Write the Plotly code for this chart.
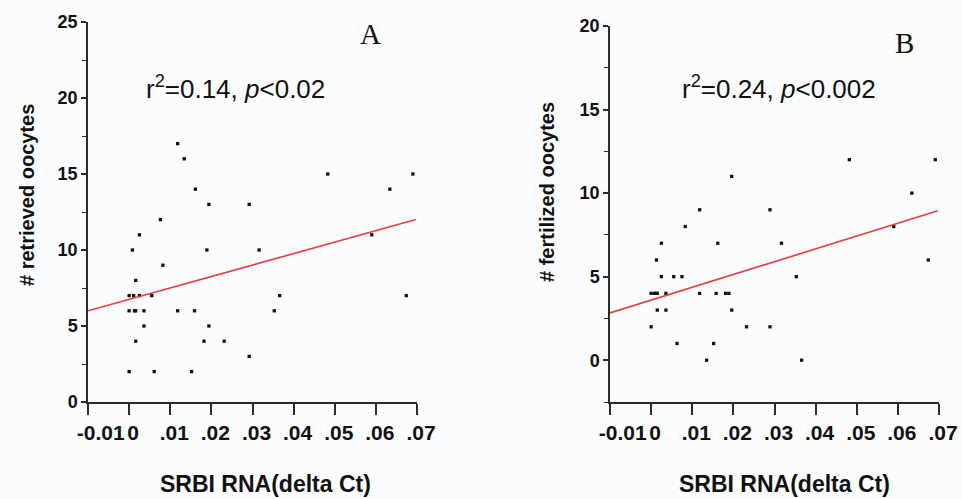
import plotly.graph_objects as go

# ---------------- data ----------------
a_x = [0.0118, 0.0134, 0.0161, 0.0194, 0.0292, 0.0076, 0.0025, 0.0008, 0.0189, 0.0316,
       0.0082, 0.0016, 0.0000, 0.0011, 0.0025, 0.0055, 0.0000, 0.0013, 0.0016, 0.0036,
       0.0118, 0.0159, 0.0036, 0.0194, 0.0016, 0.0182, 0.0231, 0.0292, 0.0000, 0.0061,
       0.0152, 0.0483, 0.0690, 0.0634, 0.0590, 0.0366, 0.0353, 0.0674]
a_y = [17, 16, 14, 13, 13, 12, 11, 10, 10, 10,
       9, 8, 7, 7, 7, 7, 6, 6, 6, 6,
       6, 6, 5, 5, 4, 4, 4, 3, 2, 2,
       2, 15, 15, 14, 11, 7, 6, 7]

b_x = [0.0118, 0.0289, 0.0083, 0.0025, 0.0162, 0.0013, 0.0025, 0.0055, 0.0075, 0.0000,
       0.0008, 0.0013, 0.0015, 0.0036, 0.0118, 0.0158, 0.0181, 0.0189, 0.0015, 0.0036,
       0.0196, 0.0000, 0.0232, 0.0289, 0.0063, 0.0152, 0.0135, 0.0482, 0.0691, 0.0634,
       0.0317, 0.0590, 0.0674, 0.0353, 0.0366, 0.0196]
b_y = [9, 9, 8, 7, 7, 6, 5, 5, 5, 4,
       4, 4, 4, 4, 4, 4, 4, 4, 3, 3,
       3, 2, 2, 2, 1, 1, 0, 12, 12, 10,
       7, 8, 6, 5, 0, 11]

fit_a_x = [-0.01, 0.0697]
fit_a_y = [6.0, 12.0]
fit_b_x = [-0.01, 0.0697]
fit_b_y = [2.83, 8.94]

x_tickvals = [-0.01, 0, 0.01, 0.02, 0.03, 0.04, 0.05, 0.06, 0.07]
x_ticktext = ["\u00a0\u00a0\u00a0-0.01", "0", ".01", ".02", ".03", ".04", ".05", ".06", ".07"]
a_ytickvals = [0, 5, 10, 15, 20, 25]
b_ytickvals = [0, 5, 10, 15, 20]

x_title = "SRBI RNA(delta Ct)"
a_ytitle = "# retrieved oocytes"
b_ytitle = "# fertilized oocytes"
a_stat = "r<sup>2</sup>=0.14, <i>p</i><0.02"
b_stat = "r<sup>2</sup>=0.24, <i>p</i><0.002"

# ---------------- figure ----------------
W, H = 962, 499
BG = "#fafcfe"
AX = "#2a2a2a"
FONT = "Liberation Sans, Arial, sans-serif"

fig = go.Figure()
mk = dict(symbol="square", size=3.3, color="#111111", line=dict(width=0))
fig.add_trace(go.Scatter(x=a_x, y=a_y, mode="markers", marker=mk, xaxis="x", yaxis="y", showlegend=False))
fig.add_trace(go.Scatter(x=fit_a_x, y=fit_a_y, mode="lines", line=dict(color="#e2403c", width=1.6),
                         xaxis="x", yaxis="y", showlegend=False))
fig.add_trace(go.Scatter(x=b_x, y=b_y, mode="markers", marker=mk, xaxis="x2", yaxis="y2", showlegend=False))
fig.add_trace(go.Scatter(x=fit_b_x, y=fit_b_y, mode="lines", line=dict(color="#e2403c", width=1.6),
                         xaxis="x2", yaxis="y2", showlegend=False))

def xaxis(domain, anchor):
    return dict(domain=domain, anchor=anchor, range=[-0.01, 0.07], showline=True, linecolor=AX,
                linewidth=1.5, ticks="outside", ticklen=11, tickwidth=1.5, tickcolor=AX,
                tickvals=x_tickvals, ticktext=x_ticktext, showgrid=False, zeroline=False,
                automargin=False,
                tickfont=dict(family=FONT, size=21, color="#111111", weight="bold"),
                ticklabelshift=4)

def yaxis(domain, anchor, rng, vals):
    return dict(domain=domain, anchor=anchor, range=rng, showline=True, linecolor=AX,
                linewidth=1.5, ticks="outside", ticklen=5, tickwidth=1.5, tickcolor=AX,
                tickvals=vals, showgrid=False, zeroline=False, automargin=False,
                minor=dict(dtick=2.5, tick0=0, ticks="outside", ticklen=4, tickcolor=AX, tickwidth=1.2),
                tickfont=dict(family=FONT, size=18, color="#111111", weight="bold"))

fig.update_layout(
    width=W, height=H, margin=dict(l=0, r=0, t=0, b=0, pad=0, autoexpand=False),
    paper_bgcolor=BG, plot_bgcolor=BG,
    xaxis=xaxis([88 / W, 417 / W], "y"),
    yaxis=yaxis([1 - 402 / H, 1 - 22 / H], "x", [0, 25], a_ytickvals),
    xaxis2=xaxis([610 / W, 939 / W], "y2"),
    yaxis2=yaxis([1 - 402 / H, 1 - 26 / H], "x2", [-2.5, 20], b_ytickvals),
)

def ann(text, px, py, size, family=FONT, bold=False, angle=0):
    fig.add_annotation(text=text, x=px / W, y=1 - py / H, xref="paper", yref="paper",
                       showarrow=False, textangle=angle, xanchor="center", yanchor="middle",
                       font=dict(family=family, size=size, color="#111111",
                                 weight="bold" if bold else "normal"))

ann(x_title, 265, 484, 23, bold=True)
ann(x_title, 784, 484, 23, bold=True)
ann(a_ytitle, 27, 195, 20, bold=True, angle=-90)
ann(b_ytitle, 547, 192, 20, bold=True, angle=-90)
ann(a_stat, 235, 87, 26)
ann(b_stat, 779, 87, 26)
ann("A", 370, 34, 29, family="Liberation Serif, Times New Roman, serif")
ann("B", 904, 43, 29, family="Liberation Serif, Times New Roman, serif")

fig.write_html("out.html", config={"displayModeBar": False},
               post_script="document.body.style.margin='0';document.body.style.padding='0';"
                           "document.body.style.background='" + BG + "';"
                           "document.body.style.overflow='hidden';")
